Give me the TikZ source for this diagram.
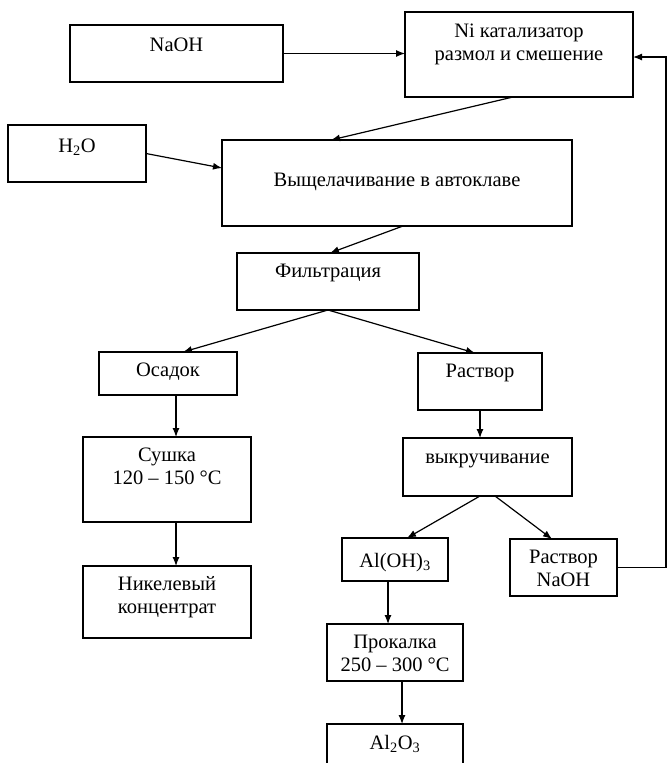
\documentclass[tikz,border=0pt]{standalone}
\usepackage{fontspec}
\setmainfont{Liberation Serif}
\usetikzlibrary{arrows.meta}
\begin{document}
\begin{tikzpicture}[x=1pt,y=-1pt,
  box/.style={draw, line width=1.2pt, anchor=north west, inner sep=0pt, outer sep=0pt,
    align=center, font=\fontsize{20.5}{23}\selectfont},
  arr/.style={line width=1.2pt, -{Latex[length=9pt,width=7pt]}},
  ln/.style={line width=1.2pt}]
\useasboundingbox (0,0) rectangle (670,763);
\node[box, minimum width=213pt, text height=26pt, text depth=31pt] (naoh) at (70,25) {NaOH};
\node[box, minimum width=228pt, text height=48pt, text depth=37pt] (ni) at (405,12) {Ni катализатор\\размол и смешение};
\node[box, minimum width=138pt, text height=27pt, text depth=30pt] (h2o) at (8,125) {H\textsubscript{2}O};
\node[box, minimum width=350pt, text height=46pt, text depth=40pt] (vy) at (222,140) {Выщелачивание в автоклаве};
\node[box, minimum width=182pt, text height=24pt, text depth=33pt] (filt) at (237,253) {Фильтрация};
\node[box, minimum width=138pt, text height=24pt, text depth=19pt] (osad) at (99,352) {Осадок};
\node[box, minimum width=124pt, text height=24pt, text depth=33pt] (rastv) at (418,353) {Раствор};
\node[box, minimum width=168pt, text height=47pt, text depth=38pt] (sush) at (83,437) {Сушка\\120 – 150 °C};
\node[box, minimum width=168pt, text height=47pt, text depth=25pt] (nikel) at (83,566) {Никелевый\\концентрат};
\node[box, minimum width=169pt, text height=25pt, text depth=33pt] (vykr) at (403,438) {выкручивание};
\node[box, minimum width=106pt, text height=29pt, text depth=14pt] (aloh) at (342,538) {Al(OH)\textsubscript{3}};
\node[box, minimum width=107pt, text height=47pt, text depth=10pt] (rnaoh) at (510,539) {Раствор\\NaOH};
\node[box, minimum width=136pt, text height=47pt, text depth=10pt] (prok) at (327,624) {Прокалка\\250 – 300 °C};
\node[box, minimum width=136pt, text height=25pt, text depth=25pt] (al2o3) at (327,724) {Al\textsubscript{2}O\textsubscript{3}};
% connectors
\coordinate (fbt) at (666,57);
\coordinate (o1) at ([xshift=77pt]osad.south west);
\coordinate (a1) at ([xshift=46pt]aloh.south west);
\coordinate (p1) at ([xshift=75pt]prok.south west);
\draw[arr] (naoh.east) -- (naoh.east -| ni.west);
\draw[arr] (rnaoh.east) -- (rnaoh.east -| fbt) -- (fbt) -- (fbt -| ni.east);
\draw[arr] ([xshift=108pt]ni.south west) -- ([xshift=109pt]vy.north west);
\draw[arr] (h2o.east) -- ([yshift=15pt]vy.west);
\draw[arr] ([xshift=181pt]vy.south west) -- ([xshift=93pt]filt.north west);
\draw[arr] (filt.south) -- ([xshift=84pt]osad.north west);
\draw[arr] (filt.south) -- ([xshift=57pt]rastv.north west);
\draw[arr] (o1) -- (o1 |- sush.north);
\draw[arr] (rastv.south) -- (rastv.south |- vykr.north);
\draw[arr] (o1 |- sush.south) -- (o1 |- nikel.north);
\draw[arr] ([xshift=77pt]vykr.south west) -- ([xshift=65pt]aloh.north west);
\draw[arr] ([xshift=92pt]vykr.south west) -- ([xshift=42pt]rnaoh.north west);
\draw[arr] (a1) -- (a1 |- prok.north);
\draw[arr] (p1) -- (p1 |- al2o3.north);
\end{tikzpicture}
\end{document}
